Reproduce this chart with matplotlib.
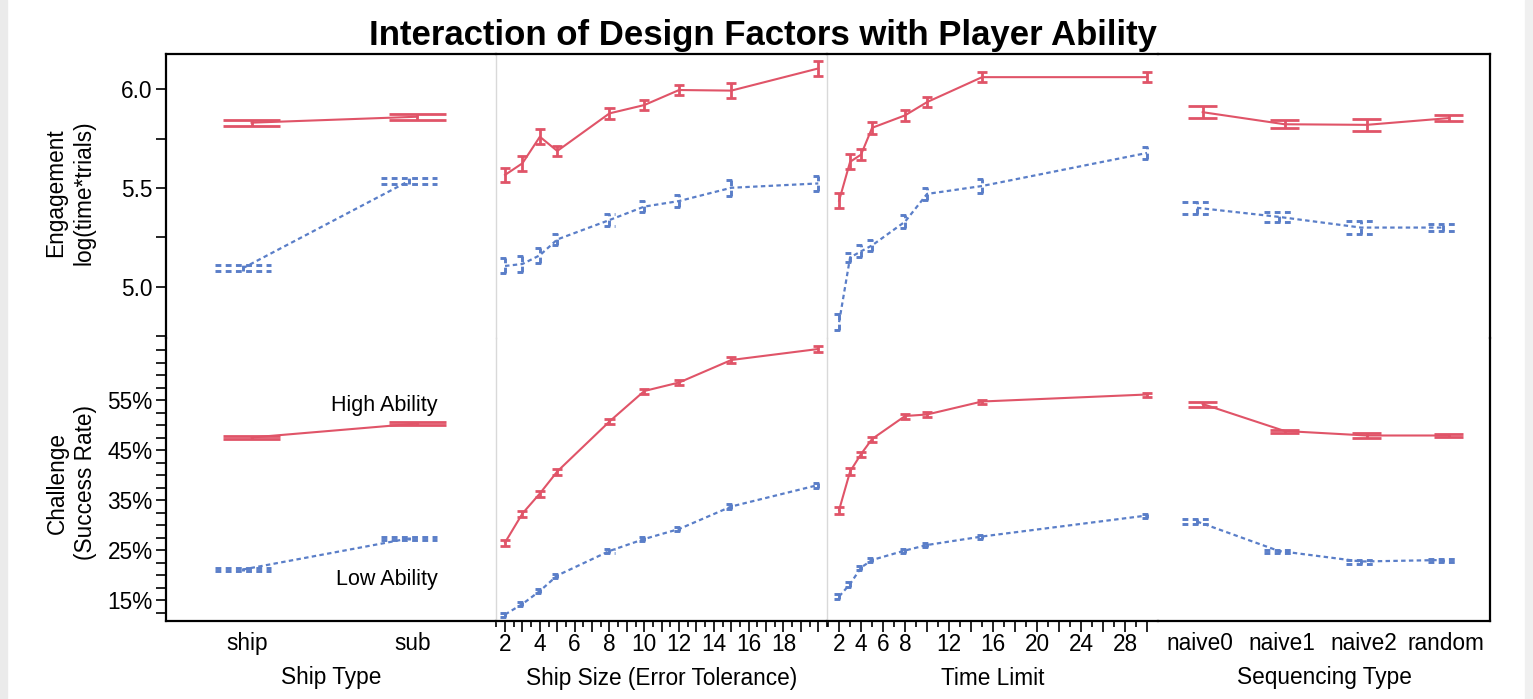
import numpy as np
import matplotlib
matplotlib.use("Agg")
import matplotlib.pyplot as plt
from matplotlib.ticker import FixedLocator, FuncFormatter, NullLocator
from matplotlib.patches import Rectangle

plt.rcParams["font.family"] = ["Liberation Sans", "DejaVu Sans"]

# ---- data -------------------------------------------------------------
ship_types = ["ship", "sub"]
eng_ship_hi = [5.83, 5.86]
eng_ship_hi_err = [0.015, 0.016]
eng_ship_lo = [5.095, 5.535]
eng_ship_lo_err = [0.014, 0.017]
chal_ship_hi = [47.5, 50.3]
chal_ship_hi_err = [0.3, 0.3]
chal_ship_lo = [21.1, 27.3]
chal_ship_lo_err = [0.3, 0.3]

ship_sizes = [2, 3, 4, 5, 8, 10, 12, 15, 20]
eng_size_hi = [5.566, 5.625, 5.759, 5.687, 5.877, 5.919, 5.995, 5.992, 6.104]
eng_size_hi_err = [0.037, 0.039, 0.038, 0.027, 0.028, 0.027, 0.027, 0.038, 0.037]
eng_size_lo = [5.106, 5.116, 5.160, 5.240, 5.338, 5.406, 5.434, 5.501, 5.523]
eng_size_lo_err = [0.038, 0.038, 0.038, 0.027, 0.029, 0.029, 0.029, 0.039, 0.040]
chal_size_hi = [26.5, 32.3, 36.3, 40.7, 50.7, 56.8, 58.5, 63.0, 65.2]
chal_size_hi_err = [0.6, 0.6, 0.6, 0.6, 0.5, 0.5, 0.5, 0.6, 0.6]
chal_size_lo = [12.1, 14.2, 16.8, 19.9, 24.8, 27.2, 29.2, 33.7, 38.0]
chal_size_lo_err = [0.4, 0.4, 0.4, 0.4, 0.4, 0.4, 0.4, 0.5, 0.5]

time_limits = [2, 3, 4, 5, 8, 10, 15, 30]
eng_time_hi = [5.436, 5.632, 5.669, 5.804, 5.867, 5.934, 6.060, 6.060]
eng_time_hi_err = [0.038, 0.038, 0.028, 0.031, 0.027, 0.027, 0.027, 0.027]
eng_time_lo = [4.822, 5.149, 5.180, 5.210, 5.330, 5.470, 5.510, 5.677]
eng_time_lo_err = [0.040, 0.025, 0.031, 0.029, 0.032, 0.031, 0.033, 0.031]
chal_time_hi = [33.0, 40.7, 44.2, 47.2, 51.8, 52.1, 54.7, 56.1]
chal_time_hi_err = [0.7, 0.7, 0.5, 0.5, 0.5, 0.5, 0.4, 0.4]
chal_time_lo = [15.7, 18.2, 21.5, 23.0, 24.9, 26.0, 27.7, 31.9]
chal_time_lo_err = [0.5, 0.5, 0.4, 0.4, 0.4, 0.4, 0.4, 0.4]

seq_types = ["naive0", "naive1", "naive2", "random"]
eng_seq_hi = [5.883, 5.822, 5.819, 5.853]
eng_seq_hi_err = [0.031, 0.021, 0.029, 0.015]
eng_seq_lo = [5.400, 5.354, 5.300, 5.300]
eng_seq_lo_err = [0.031, 0.024, 0.033, 0.018]
chal_seq_hi = [54.2, 48.8, 47.9, 47.9]
chal_seq_hi_err = [0.5, 0.3, 0.5, 0.3]
chal_seq_lo = [30.7, 24.8, 22.7, 23.0]
chal_seq_lo_err = [0.5, 0.3, 0.4, 0.3]

# ---- styling ----------------------------------------------------------
RED = "#e05468"
BLUE = "#5a7ec8"
HI_STYLE = dict(color=RED, ls="-", lw=1.5)
LO_STYLE = dict(color=BLUE, ls=(0, (2.0, 1.5)), lw=1.6)
DIVIDER = "#d9d9d9"
FS = 16.3

W, H = 1533, 699
fig = plt.figure(figsize=(W / 100, H / 100), dpi=100)
fig.patches.append(Rectangle((0, 0), 7 / W, 1, transform=fig.transFigure,
                             color="#ebebeb", zorder=0))
fig.patches.append(Rectangle((1 - 8 / W, 0), 8 / W, 1, transform=fig.transFigure,
                             color="#f0f0f0", zorder=0))

col_px = [166, 496, 827, 1158, 1490]
row_px = [54, 338, 621]


def px_axes(x0, x1, y0, y1):
    return fig.add_axes([x0 / W, 1 - y1 / H, (x1 - x0) / W, (y1 - y0) / H])


def draw_series(ax, x, y, err, cap_half, style):
    x = np.asarray(x, float)
    y = np.asarray(y, float)
    err = np.asarray(err, float)
    ax.plot(x, y, color=style["color"], ls=style["ls"], lw=style["lw"], zorder=3)
    bar_lw = style["lw"] + 0.5
    ax.vlines(x, y - err, y + err, colors=style["color"], linestyles=style["ls"],
              lw=bar_lw, zorder=3)
    for yy in (y - err, y + err):
        ax.hlines(yy, x - cap_half, x + cap_half, colors=style["color"],
                  linestyles=style["ls"], lw=bar_lw, zorder=3)


# one entry per column: x values, x limits, cap half width, dodge
panels = [
    dict(x=np.arange(len(ship_types)), xlim=(-0.49, 1.5), cap=0.17, dodge=0.026,
         xlabel="Ship Type",
         eng=(eng_ship_hi, eng_ship_hi_err, eng_ship_lo, eng_ship_lo_err),
         chal=(chal_ship_hi, chal_ship_hi_err, chal_ship_lo, chal_ship_lo_err)),
    dict(x=np.array(ship_sizes), xlim=(1.48, 20.5), cap=0.29, dodge=0.0,
         xlabel="Ship Size (Error Tolerance)",
         eng=(eng_size_hi, eng_size_hi_err, eng_size_lo, eng_size_lo_err),
         chal=(chal_size_hi, chal_size_hi_err, chal_size_lo, chal_size_lo_err)),
    dict(x=np.array(time_limits), xlim=(0.9, 31.0), cap=0.45, dodge=0.0,
         xlabel="Time Limit",
         eng=(eng_time_hi, eng_time_hi_err, eng_time_lo, eng_time_lo_err),
         chal=(chal_time_hi, chal_time_hi_err, chal_time_lo, chal_time_lo_err)),
    dict(x=np.arange(len(seq_types)), xlim=(-0.51, 3.54), cap=0.18, dodge=0.035,
         xlabel="Sequencing Type",
         eng=(eng_seq_hi, eng_seq_hi_err, eng_seq_lo, eng_seq_lo_err),
         chal=(chal_seq_hi, chal_seq_hi_err, chal_seq_lo, chal_seq_lo_err)),
]

eng_ylim = (4.742, 6.177)
chal_ylim = (10.8, 67.4)

for c, p in enumerate(panels):
    for r, key in enumerate(["eng", "chal"]):
        ax = px_axes(col_px[c], col_px[c + 1], row_px[r], row_px[r + 1])
        ax.set_xlim(*p["xlim"])
        ax.set_ylim(*(eng_ylim if r == 0 else chal_ylim))
        ax.patch.set_alpha(0)

        hi, hi_err, lo, lo_err = p[key]
        draw_series(ax, p["x"] - p["dodge"], lo, lo_err, p["cap"], LO_STYLE)
        draw_series(ax, p["x"] + p["dodge"], hi, hi_err, p["cap"], HI_STYLE)

        # frame: black outside, light gray between the middle columns
        for s in ax.spines.values():
            s.set_visible(False)
        if c == 0:
            ax.spines["left"].set_visible(True)
            ax.spines["left"].set_color("black")
            ax.spines["left"].set_linewidth(1.6)
        elif c in (1, 2):
            ax.spines["left"].set_visible(True)
            ax.spines["left"].set_color(DIVIDER)
            ax.spines["left"].set_linewidth(1.0)
        if c == 3:
            ax.spines["right"].set_visible(True)
            ax.spines["right"].set_linewidth(1.6)
        if r == 0:
            ax.spines["top"].set_visible(True)
            ax.spines["top"].set_linewidth(1.6)
        else:
            ax.spines["bottom"].set_visible(True)
            ax.spines["bottom"].set_linewidth(1.6)

        # y axis only on the first column
        if c == 0:
            if r == 0:
                ax.yaxis.set_major_locator(FixedLocator([5.0, 5.5, 6.0]))
                ax.yaxis.set_minor_locator(FixedLocator([4.75, 5.25, 5.75]))
                ax.yaxis.set_major_formatter(FuncFormatter(lambda v, _: f"{v:.1f}"))
                ax.set_ylabel("Engagement\nlog(time*trials)", fontsize=FS,
                              linespacing=1.3)
                ax.yaxis.set_label_coords(-0.215, 0.51)
            else:
                ax.yaxis.set_major_locator(FixedLocator([15, 25, 35, 45, 55]))
                ax.yaxis.set_minor_locator(FixedLocator(np.arange(12.5, 68, 2.5)))
                ax.yaxis.set_major_formatter(FuncFormatter(lambda v, _: f"{v:.0f}%"))
                ax.set_ylabel("Challenge\n(Success Rate)", fontsize=FS,
                              linespacing=1.3)
                ax.yaxis.set_label_coords(-0.209, 0.488)
            ax.tick_params(axis="y", which="both", direction="out", length=7.5,
                           width=1.2, labelsize=FS, pad=2)
        else:
            ax.yaxis.set_major_locator(NullLocator())
            ax.yaxis.set_minor_locator(NullLocator())

        # x axis only on the bottom row
        if r == 0:
            ax.xaxis.set_major_locator(NullLocator())
            ax.xaxis.set_minor_locator(NullLocator())
            continue

        if c in (0, 3):
            labels = ship_types if c == 0 else seq_types
            ax.set_xticks(p["x"], labels)
            ax.tick_params(axis="x", length=0, pad=8, labelsize=FS)
        elif c == 1:
            ax.xaxis.set_major_locator(FixedLocator(np.arange(2, 21)))
            ax.xaxis.set_minor_locator(FixedLocator(np.arange(1.5, 20.6, 1.0)))
            ax.xaxis.set_major_formatter(FuncFormatter(
                lambda v, _: f"{v:.0f}" if v % 2 == 0 and v <= 18 else ""))
        else:
            ax.xaxis.set_major_locator(FixedLocator(np.arange(2, 31, 2)))
            ax.xaxis.set_minor_locator(FixedLocator(np.arange(1, 30, 2)))
            shown = {2, 4, 6, 8, 12, 16, 20, 24, 28}
            ax.xaxis.set_major_formatter(FuncFormatter(
                lambda v, _: f"{v:.0f}" if round(v) in shown else ""))
        if c in (1, 2):
            ax.tick_params(axis="x", which="major", direction="out", length=8,
                           width=1.2, labelsize=FS, pad=0.5)
            ax.tick_params(axis="x", which="minor", direction="out", length=4.5,
                           width=1.2)
        ax.set_xlabel(p["xlabel"], fontsize=FS, labelpad=8)

        if c == 0:
            ax.text(1.145, 54.0, "High Ability", ha="right", va="center", fontsize=15.5)
            ax.text(1.15, 19.0, "Low Ability", ha="right", va="center", fontsize=15.5)

fig.text(763 / W, 1 - 35 / H, "Interaction of Design Factors with Player Ability",
         ha="center", va="center", fontsize=25, fontweight="bold")

fig.savefig("out.png", dpi=100)
